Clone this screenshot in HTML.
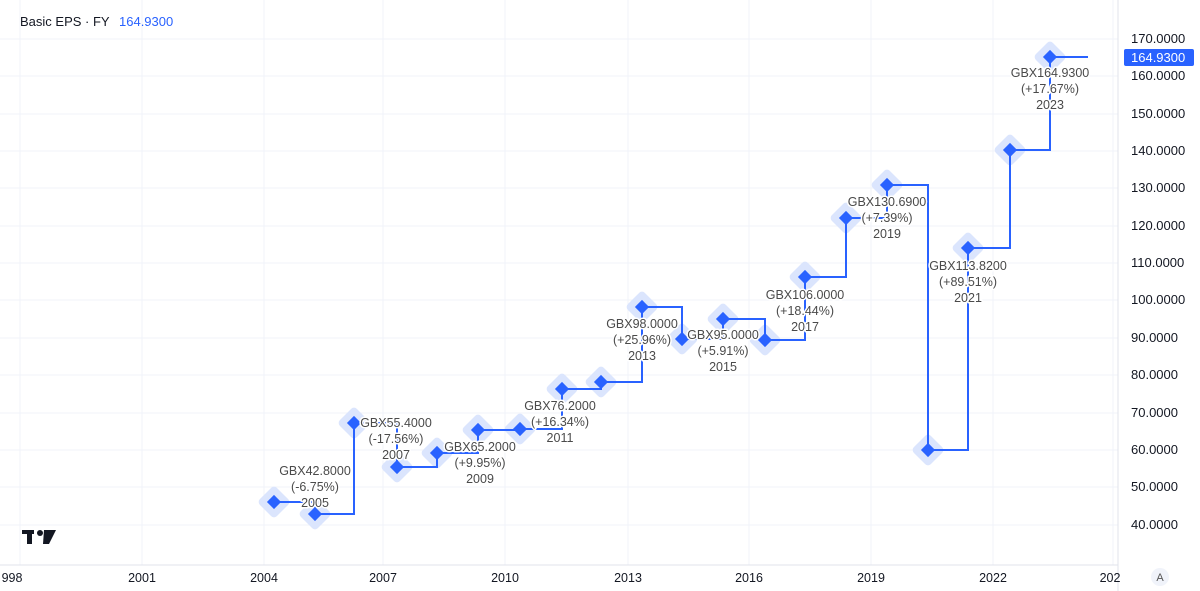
<!DOCTYPE html>
<html><head><meta charset="utf-8"><style>
body{margin:0;background:#fff;}
svg{display:block;font-family:"Liberation Sans",sans-serif;}
</style></head><body>
<svg width="1200" height="591" viewBox="0 0 1200 591">
<rect width="1200" height="591" fill="#fff"/>
<g stroke="#f0f3fa" stroke-width="1">
<line x1="0" y1="39" x2="1118" y2="39"/><line x1="0" y1="76" x2="1118" y2="76"/><line x1="0" y1="114" x2="1118" y2="114"/><line x1="0" y1="151" x2="1118" y2="151"/><line x1="0" y1="188" x2="1118" y2="188"/><line x1="0" y1="226" x2="1118" y2="226"/><line x1="0" y1="263" x2="1118" y2="263"/><line x1="0" y1="300" x2="1118" y2="300"/><line x1="0" y1="338" x2="1118" y2="338"/><line x1="0" y1="375" x2="1118" y2="375"/><line x1="0" y1="413" x2="1118" y2="413"/><line x1="0" y1="450" x2="1118" y2="450"/><line x1="0" y1="487" x2="1118" y2="487"/><line x1="0" y1="525" x2="1118" y2="525"/>
<line x1="20" y1="0" x2="20" y2="565"/><line x1="142" y1="0" x2="142" y2="565"/><line x1="264" y1="0" x2="264" y2="565"/><line x1="383" y1="0" x2="383" y2="565"/><line x1="505" y1="0" x2="505" y2="565"/><line x1="628" y1="0" x2="628" y2="565"/><line x1="749" y1="0" x2="749" y2="565"/><line x1="871" y1="0" x2="871" y2="565"/><line x1="993" y1="0" x2="993" y2="565"/><line x1="1113" y1="0" x2="1113" y2="565"/>
</g>
<line x1="1118" y1="0" x2="1118" y2="591" stroke="#e0e3eb"/>
<line x1="0" y1="565" x2="1118" y2="565" stroke="#e0e3eb"/>
<g fill="#dbe5fd">
<rect x="-15" y="-15" width="30" height="30" rx="5" transform="translate(274,502) rotate(45) scale(0.8)"/>
<rect x="-15" y="-15" width="30" height="30" rx="5" transform="translate(315,514) rotate(45) scale(0.8)"/>
<rect x="-15" y="-15" width="30" height="30" rx="5" transform="translate(354,423) rotate(45) scale(0.8)"/>
<rect x="-15" y="-15" width="30" height="30" rx="5" transform="translate(397,467) rotate(45) scale(0.8)"/>
<rect x="-15" y="-15" width="30" height="30" rx="5" transform="translate(437,453) rotate(45) scale(0.8)"/>
<rect x="-15" y="-15" width="30" height="30" rx="5" transform="translate(478,430) rotate(45) scale(0.8)"/>
<rect x="-15" y="-15" width="30" height="30" rx="5" transform="translate(520,429) rotate(45) scale(0.8)"/>
<rect x="-15" y="-15" width="30" height="30" rx="5" transform="translate(562,389) rotate(45) scale(0.8)"/>
<rect x="-15" y="-15" width="30" height="30" rx="5" transform="translate(601,382) rotate(45) scale(0.8)"/>
<rect x="-15" y="-15" width="30" height="30" rx="5" transform="translate(642,307) rotate(45) scale(0.8)"/>
<rect x="-15" y="-15" width="30" height="30" rx="5" transform="translate(682,339) rotate(45) scale(0.8)"/>
<rect x="-15" y="-15" width="30" height="30" rx="5" transform="translate(723,319) rotate(45) scale(0.8)"/>
<rect x="-15" y="-15" width="30" height="30" rx="5" transform="translate(765,340) rotate(45) scale(0.8)"/>
<rect x="-15" y="-15" width="30" height="30" rx="5" transform="translate(805,277) rotate(45) scale(0.8)"/>
<rect x="-15" y="-15" width="30" height="30" rx="5" transform="translate(846,218) rotate(45) scale(0.8)"/>
<rect x="-15" y="-15" width="30" height="30" rx="5" transform="translate(887,185) rotate(45) scale(0.8)"/>
<rect x="-15" y="-15" width="30" height="30" rx="5" transform="translate(928,450) rotate(45) scale(0.8)"/>
<rect x="-15" y="-15" width="30" height="30" rx="5" transform="translate(968,248) rotate(45) scale(0.8)"/>
<rect x="-15" y="-15" width="30" height="30" rx="5" transform="translate(1010,150) rotate(45) scale(0.8)"/>
<rect x="-15" y="-15" width="30" height="30" rx="5" transform="translate(1050,57) rotate(45) scale(0.8)"/>
</g>
<polyline fill="none" stroke="#2962ff" stroke-width="2" points="274,502 315,502 315,514 354,514 354,423 397,423 397,467 437,467 437,453 478,453 478,430 520,430 520,429 562,429 562,389 601,389 601,382 642,382 642,307 682,307 682,339 723,339 723,319 765,319 765,340 805,340 805,277 846,277 846,218 887,218 887,185 928,185 928,450 968,450 968,248 1010,248 1010,150 1050,150 1050,57 1088,57"/>
<g fill="#2962ff">
<rect x="-5" y="-5" width="10" height="10" transform="translate(274,502) rotate(45)"/>
<rect x="-5" y="-5" width="10" height="10" transform="translate(315,514) rotate(45)"/>
<rect x="-5" y="-5" width="10" height="10" transform="translate(354,423) rotate(45)"/>
<rect x="-5" y="-5" width="10" height="10" transform="translate(397,467) rotate(45)"/>
<rect x="-5" y="-5" width="10" height="10" transform="translate(437,453) rotate(45)"/>
<rect x="-5" y="-5" width="10" height="10" transform="translate(478,430) rotate(45)"/>
<rect x="-5" y="-5" width="10" height="10" transform="translate(520,429) rotate(45)"/>
<rect x="-5" y="-5" width="10" height="10" transform="translate(562,389) rotate(45)"/>
<rect x="-5" y="-5" width="10" height="10" transform="translate(601,382) rotate(45)"/>
<rect x="-5" y="-5" width="10" height="10" transform="translate(642,307) rotate(45)"/>
<rect x="-5" y="-5" width="10" height="10" transform="translate(682,339) rotate(45)"/>
<rect x="-5" y="-5" width="10" height="10" transform="translate(723,319) rotate(45)"/>
<rect x="-5" y="-5" width="10" height="10" transform="translate(765,340) rotate(45)"/>
<rect x="-5" y="-5" width="10" height="10" transform="translate(805,277) rotate(45)"/>
<rect x="-5" y="-5" width="10" height="10" transform="translate(846,218) rotate(45)"/>
<rect x="-5" y="-5" width="10" height="10" transform="translate(887,185) rotate(45)"/>
<rect x="-5" y="-5" width="10" height="10" transform="translate(928,450) rotate(45)"/>
<rect x="-5" y="-5" width="10" height="10" transform="translate(968,248) rotate(45)"/>
<rect x="-5" y="-5" width="10" height="10" transform="translate(1010,150) rotate(45)"/>
<rect x="-5" y="-5" width="10" height="10" transform="translate(1050,57) rotate(45)"/>
</g>
<g font-size="12.5" fill="#4a4a4a" text-anchor="middle" stroke="#fff" stroke-width="3" paint-order="stroke" stroke-linejoin="round">
<text x="315" y="475">GBX42.8000</text><text x="315" y="491">(-6.75%)</text><text x="315" y="507">2005</text>
<text x="396" y="427">GBX55.4000</text><text x="396" y="443">(-17.56%)</text><text x="396" y="459">2007</text>
<text x="480" y="451">GBX65.2000</text><text x="480" y="467">(+9.95%)</text><text x="480" y="483">2009</text>
<text x="560" y="410">GBX76.2000</text><text x="560" y="426">(+16.34%)</text><text x="560" y="442">2011</text>
<text x="642" y="328">GBX98.0000</text><text x="642" y="344">(+25.96%)</text><text x="642" y="360">2013</text>
<text x="723" y="339">GBX95.0000</text><text x="723" y="355">(+5.91%)</text><text x="723" y="371">2015</text>
<text x="805" y="299">GBX106.0000</text><text x="805" y="315">(+18.44%)</text><text x="805" y="331">2017</text>
<text x="887" y="206">GBX130.6900</text><text x="887" y="222">(+7.39%)</text><text x="887" y="238">2019</text>
<text x="968" y="270">GBX113.8200</text><text x="968" y="286">(+89.51%)</text><text x="968" y="302">2021</text>
<text x="1050" y="77">GBX164.9300</text><text x="1050" y="93">(+17.67%)</text><text x="1050" y="109">2023</text>
</g>
<g font-size="13" fill="#131722" text-anchor="start">
<text x="1131" y="43">170.0000</text><text x="1131" y="118">150.0000</text><text x="1131" y="155">140.0000</text><text x="1131" y="192">130.0000</text><text x="1131" y="230">120.0000</text><text x="1131" y="267">110.0000</text><text x="1131" y="304">100.0000</text><text x="1131" y="342">90.0000</text><text x="1131" y="379">80.0000</text><text x="1131" y="417">70.0000</text><text x="1131" y="454">60.0000</text><text x="1131" y="491">50.0000</text><text x="1131" y="529">40.0000</text>
<text x="1131" y="80">160.0000</text>
</g>
<rect x="1124" y="49" width="70" height="17" rx="2" fill="#2962ff"/>
<text x="1131" y="62" font-size="13" fill="#fff">164.9300</text>
<g font-size="12.5" fill="#131722" text-anchor="middle">
<text x="12" y="582">998</text><text x="142" y="582">2001</text><text x="264" y="582">2004</text><text x="383" y="582">2007</text><text x="505" y="582">2010</text><text x="628" y="582">2013</text><text x="749" y="582">2016</text><text x="871" y="582">2019</text><text x="993" y="582">2022</text><text x="1110" y="582">202</text>
</g>
<circle cx="1160" cy="577" r="9" fill="#f0f3fa"/>
<text x="1160" y="581" font-size="11" fill="#555" text-anchor="middle">A</text>
<text x="20" y="26" font-size="13" fill="#131722">Basic EPS · FY</text>
<text x="119" y="26" font-size="13" fill="#2962ff">164.9300</text>
<g fill="#131722">
<rect x="22" y="530" width="12" height="4"/><rect x="27" y="530" width="5" height="14"/>
<circle cx="40" cy="533" r="3"/>
<polygon points="44,530 56,530 49,544 43,544"/>
</g>
</svg>
</body></html>
